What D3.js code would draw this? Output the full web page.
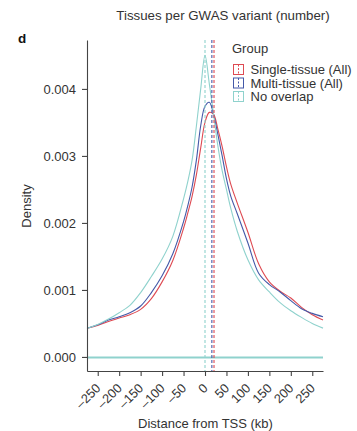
<!DOCTYPE html>
<html>
<head>
<meta charset="utf-8">
<script src="https://cdn.jsdelivr.net/npm/d3@7"></script>
<style>
  body { margin: 0; background: #fff; }
  text { font-family: "Liberation Sans", Arial, Helvetica, sans-serif; fill: #333; }
</style>
</head>
<body>
<script>
const kb = [-275, -250, -225, -200, -175, -150, -125, -100, -75, -50, -40, -30, -20, -10, 0,
            10, 20, 30, 40, 50, 60, 75, 100, 125, 150, 175, 200, 225, 250, 275];

const singleTissue = [0.000428, 0.00047, 0.00053, 0.00058, 0.00063, 0.00071, 0.00087, 0.00112, 0.00144, 0.00192,
                      0.00215, 0.00240, 0.00272, 0.00312, 0.00350,
                      0.00365, 0.00362, 0.00340, 0.00314, 0.00284, 0.00258, 0.00230, 0.00186, 0.00139, 0.00112,
                      0.00098, 0.00088, 0.00074, 0.00063, 0.00055];

const multiTissue = [0.000428, 0.00048, 0.00055, 0.00060, 0.00066, 0.00076, 0.00096, 0.00121, 0.00154, 0.00202,
                     0.00226, 0.00254, 0.00294, 0.00345, 0.00374,
                     0.00380, 0.00362, 0.00332, 0.00300, 0.00266, 0.00240, 0.00214, 0.00170, 0.00125, 0.00108,
                     0.00097, 0.00084, 0.00072, 0.00065, 0.00060];

const noOverlap = [0.000425, 0.000485, 0.000565, 0.00066, 0.00077, 0.00096, 0.00120, 0.00146, 0.00180, 0.00236,
                   0.00262, 0.00294, 0.00345, 0.00400, 0.00450,
                   0.00408, 0.00362, 0.00315, 0.00278, 0.00250, 0.00222, 0.00188, 0.00145, 0.00115, 0.00097,
                   0.00081, 0.00069, 0.00059, 0.00050, 0.00043];

const groups = ["Single-tissue (All)", "Multi-tissue (All)", "No overlap"];
const colors = ["#de4a52", "#4459a8", "#8fd2cd"];
const medians = [21, 16, 0];

const xTicks = [-250, -200, -150, -100, -50, 0, 50, 100, 150, 200, 250];
const yTicks = [0, 0.001, 0.002, 0.003, 0.004];

const series = [singleTissue, multiTissue, noOverlap];

const W = 357, H = 431;
const svg = d3.select("body").append("svg")
    .attr("width", W)
    .attr("height", H);

const x = d3.scaleLinear().domain([-275, 275]).range([87, 323]);
const y = d3.scaleLinear().domain([-0.00021, 0.00473]).range([371, 40]);

// title + panel letter
svg.append("text")
    .attr("x", 223).attr("y", 20)
    .attr("text-anchor", "middle")
    .style("font-size", "13.3px")
    .text("Tissues per GWAS variant (number)");

svg.append("text")
    .attr("x", 18).attr("y", 43)
    .style("font-size", "13.5px")
    .style("font-weight", "bold")
    .style("fill", "#111")
    .text("d");

// density lines
const line = d3.line()
    .x((d, i) => x(kb[i]))
    .y(d => y(d))
    .curve(d3.curveCatmullRom.alpha(0.5));

series.forEach((s, i) => {
    svg.append("path")
        .attr("d", line(s))
        .attr("fill", "none")
        .attr("stroke", colors[i])
        .attr("stroke-width", 1.1);
});

// baselines at zero, the last group drawn on top and a bit wider
const y0 = Math.round(y(0)) + 0.5;
series.forEach((s, i) => {
    svg.append("line")
        .attr("x1", x(kb[0])).attr("x2", x(kb[kb.length - 1]))
        .attr("y1", y0).attr("y2", y0)
        .attr("stroke", colors[i])
        .attr("stroke-width", i === series.length - 1 ? 1.8 : 1);
});

// median lines
medians.forEach((m, i) => {
    svg.append("line")
        .attr("x1", x(m)).attr("x2", x(m))
        .attr("y1", y.range()[1]).attr("y2", y.range()[0])
        .attr("stroke", colors[i])
        .attr("stroke-width", 1.1)
        .attr("stroke-dasharray", "3,2");
});

// axes
const xAxis = svg.append("g")
    .attr("transform", "translate(0,371)")
    .call(d3.axisBottom(x).tickValues(xTicks).tickSize(5).tickSizeOuter(0).tickFormat(""));
const yAxis = svg.append("g")
    .attr("transform", "translate(87,0)")
    .call(d3.axisLeft(y).tickValues(yTicks).tickSize(5).tickSizeOuter(0).tickFormat(""));
[xAxis, yAxis].forEach(a => {
    a.select(".domain").attr("stroke", "#444").attr("stroke-width", 1.1);
    a.selectAll(".tick line").attr("stroke", "#444").attr("stroke-width", 1.1);
});

svg.selectAll(".ylab")
    .data(yTicks)
    .join("text")
    .attr("x", 76)
    .attr("y", d => y(d))
    .attr("dy", "0.36em")
    .attr("text-anchor", "end")
    .style("font-size", "13px")
    .text(d => d3.format(".3f")(d));

svg.selectAll(".xlab")
    .data(xTicks)
    .join("text")
    .attr("transform", d => `translate(${x(d) + 3.5},389) rotate(-45)`)
    .attr("text-anchor", "end")
    .style("font-size", "12.8px")
    .text(d => d < 0 ? "\u2013" + Math.abs(d) : d);

svg.append("text")
    .attr("x", 205.5).attr("y", 428)
    .attr("text-anchor", "middle")
    .style("font-size", "13px")
    .text("Distance from TSS (kb)");

svg.append("text")
    .attr("transform", "translate(30.5,206) rotate(-90)")
    .attr("text-anchor", "middle")
    .style("font-size", "13px")
    .text("Density");

// legend
const legend = svg.append("g").attr("transform", "translate(232,0)");
legend.append("text")
    .attr("x", 0).attr("y", 52.5)
    .style("font-size", "13px")
    .text("Group");

groups.forEach((g, i) => {
    const cy = 69.5 + i * 13.5;
    legend.append("rect")
        .attr("x", 1.5).attr("y", cy - 5)
        .attr("width", 10).attr("height", 10)
        .attr("fill", "#fff")
        .attr("stroke", colors[i])
        .attr("stroke-width", 1);
    legend.append("line")
        .attr("x1", 6.5).attr("x2", 6.5)
        .attr("y1", cy - 5).attr("y2", cy + 5)
        .attr("stroke", colors[i])
        .attr("stroke-width", 1)
        .attr("stroke-dasharray", "2,1.5");
    legend.append("text")
        .attr("x", 18.5).attr("y", cy)
        .attr("dy", "0.36em")
        .style("font-size", "13px")
        .text(g);
});
</script>
</body>
</html>
